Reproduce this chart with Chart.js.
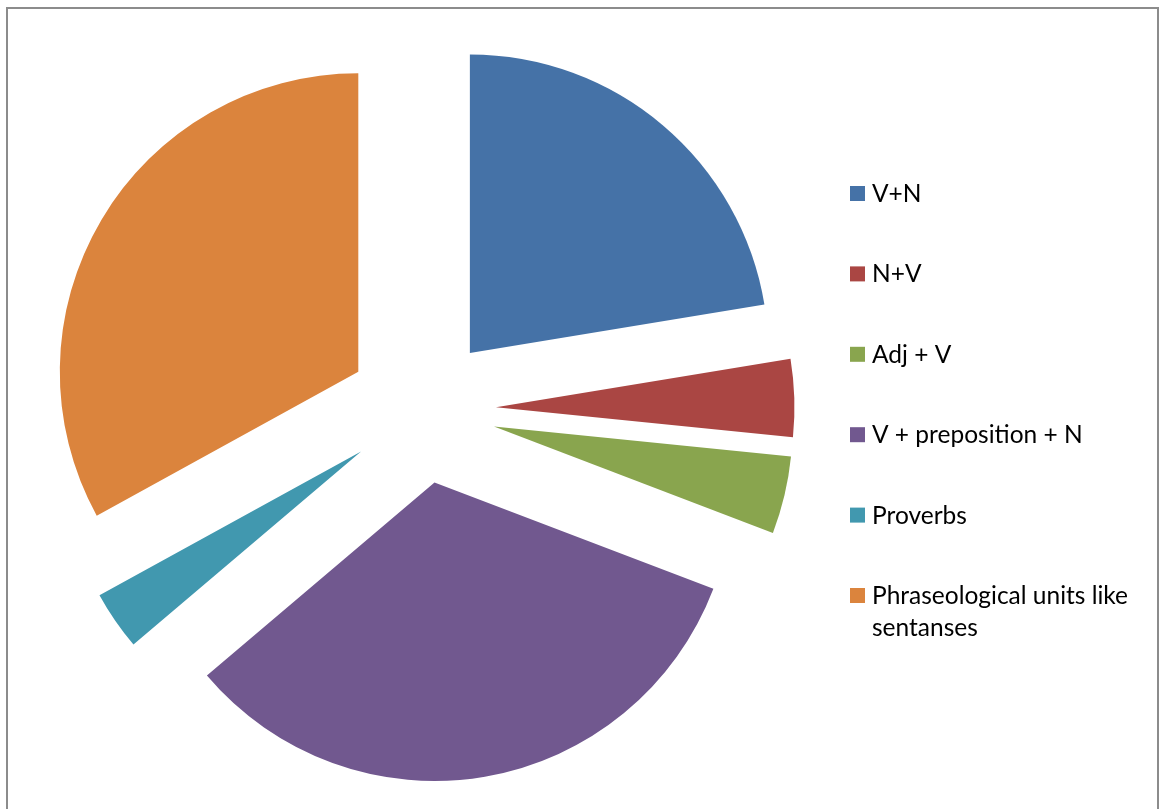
<!DOCTYPE html>
<html>
<head>
<meta charset="utf-8">
<title>Phraseological units</title>
<script src="https://cdn.jsdelivr.net/npm/chart.js@4.4.1/dist/chart.umd.min.js"></script>
<style>
  html, body { margin: 0; padding: 0; background: #ffffff; }
  #wrap { position: relative; width: 1163px; height: 809px; overflow: hidden; }
  #wrap canvas { position: absolute; left: 0; top: 0; }
  #frame {
    position: absolute; left: 6px; top: 7px; width: 1153px; height: 900px;
    border: 2px solid #8c8c8c; box-sizing: border-box; pointer-events: none;
  }
</style>
</head>
<body>
<div id="wrap">
  <canvas id="chart" width="1163" height="809" style="width:1163px;height:809px"></canvas>
  <div id="frame"></div>
</div>
<script>
// Category names, shares (%) and slice colours
const categories = [
  'V+N',
  'N+V',
  'Adj + V',
  'V + preposition + N',
  'Proverbs',
  'Phraseological units like sentanses'
];
const shares = [22.4, 4.2, 4.2, 33.0, 3.2, 33.0];
const colors = ['#4572A7', '#AA4643', '#89A54E', '#71588F', '#4198AF', '#DB843D'];

// Pie geometry
const PIE_RADIUS = 298.5;
const EXPLODE = 74;

// Legend layout
const LEGEND_FONT = '24.5px Lato';
const LEGEND_BOX_X = 850;
const LEGEND_BOX = 15;
const LEGEND_TEXT_X = 872;
const LEGEND_FIRST_Y = 193.5;
const LEGEND_STEP = 80.4;
const LEGEND_LINE = 32;
const LEGEND_MAX_W = 280;

// Pull every slice outward along its own bisector
const explodePlugin = {
  id: 'explode',
  afterDatasetsUpdate(chart) {
    chart.getDatasetMeta(0).data.forEach(arc => {
      const mid = (arc.startAngle + arc.endAngle) / 2;
      arc.x += Math.cos(mid) * EXPLODE;
      arc.y += Math.sin(mid) * EXPLODE;
    });
  }
};

function wrapWords(ctx, text, maxW) {
  const words = text.split(' ');
  const lines = [];
  let line = '';
  words.forEach(w => {
    const test = line ? line + ' ' + w : w;
    if (line && ctx.measureText(test).width > maxW) {
      lines.push(line);
      line = w;
    } else {
      line = test;
    }
  });
  if (line) lines.push(line);
  return lines;
}

// Vertical legend on the right with square markers
const sideLegend = {
  id: 'sideLegend',
  afterDraw(chart) {
    const ctx = chart.ctx;
    const labels = chart.data.labels;
    const bg = chart.data.datasets[0].backgroundColor;
    ctx.save();
    ctx.font = LEGEND_FONT;
    ctx.textBaseline = 'alphabetic';
    ctx.textAlign = 'left';
    labels.forEach((name, i) => {
      const cy = LEGEND_FIRST_Y + i * LEGEND_STEP;
      ctx.fillStyle = bg[i];
      ctx.fillRect(LEGEND_BOX_X, cy - LEGEND_BOX / 2, LEGEND_BOX, LEGEND_BOX);
      ctx.fillStyle = '#000000';
      wrapWords(ctx, name, LEGEND_MAX_W).forEach((line, j) => {
        ctx.fillText(line, LEGEND_TEXT_X, cy + 8.5 + j * LEGEND_LINE);
      });
    });
    ctx.restore();
  }
};

new Chart(document.getElementById('chart'), {
  type: 'pie',
  data: {
    labels: categories,
    datasets: [{
      data: shares,
      backgroundColor: colors,
      borderWidth: 0
    }]
  },
  options: {
    responsive: false,
    animation: false,
    radius: PIE_RADIUS,
    layout: { padding: { left: 0, right: 319, top: 10, bottom: 0 } },
    plugins: {
      legend: { display: false },
      tooltip: { enabled: false }
    }
  },
  plugins: [explodePlugin, sideLegend]
});
</script>
</body>
</html>
